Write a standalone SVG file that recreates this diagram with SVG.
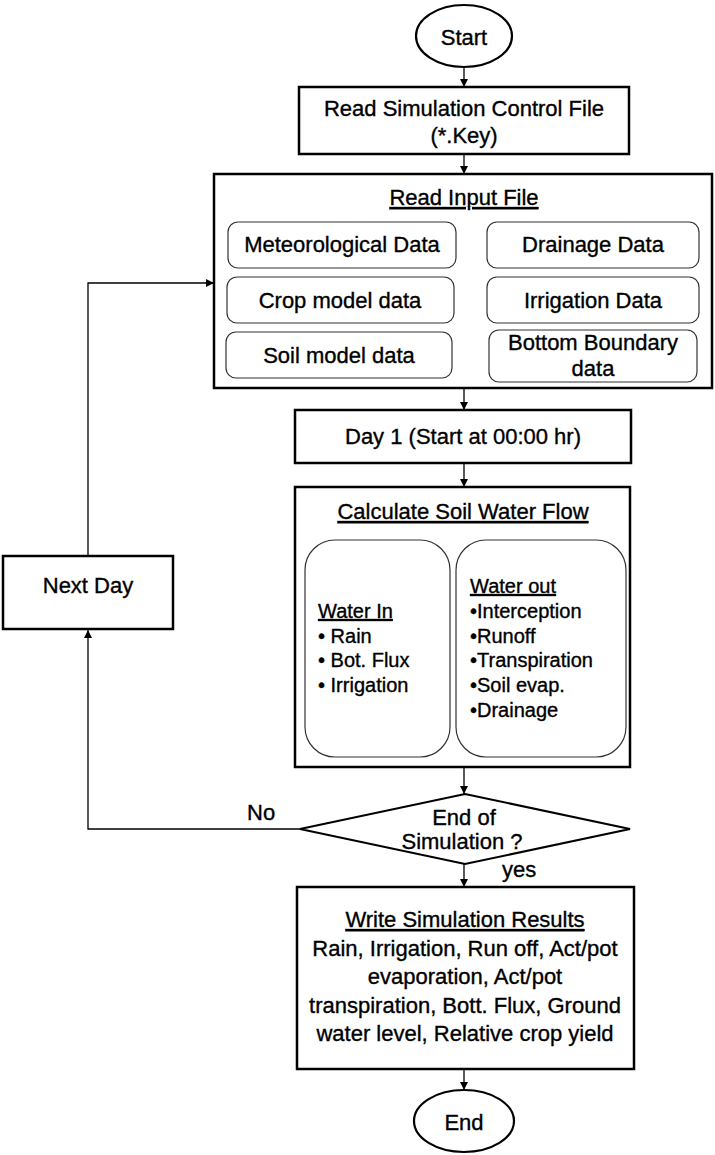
<svg xmlns="http://www.w3.org/2000/svg" width="715" height="1155" viewBox="0 0 715 1155">
<style>
text{font-family:"Liberation Sans",Arial,sans-serif;font-size:22px;fill:#000;stroke:#000;stroke-width:0.35}
.c{text-anchor:middle}
.s{font-size:20px}
.u{text-decoration:underline}
.box{fill:#fff;stroke:#000;stroke-width:2.5}
.rb{fill:#fff;stroke:#333;stroke-width:1.2}
.ln{fill:none;stroke:#000;stroke-width:1.3}
</style>
<defs>
<marker id="ar" viewBox="0 0 10 10" refX="10" refY="5" markerWidth="8" markerHeight="8" markerUnits="userSpaceOnUse" orient="auto">
<path d="M0,0 L10,5 L0,10 z" fill="#000"/>
</marker>
</defs>
<rect width="715" height="1155" fill="#fff"/>
<g id="connectors">
<line class="ln" x1="464" y1="67" x2="464" y2="87" marker-end="url(#ar)"/>
<line class="ln" x1="464" y1="154" x2="464" y2="174" marker-end="url(#ar)"/>
<line class="ln" x1="464" y1="388" x2="464" y2="410" marker-end="url(#ar)"/>
<line class="ln" x1="464" y1="463" x2="464" y2="487" marker-end="url(#ar)"/>
<line class="ln" x1="464" y1="767" x2="464" y2="794" marker-end="url(#ar)"/>
<line class="ln" x1="464" y1="864" x2="464" y2="887" marker-end="url(#ar)"/>
<line class="ln" x1="464" y1="1069" x2="464" y2="1090" marker-end="url(#ar)"/>
<polyline class="ln" points="300,829 88,829 88,630" marker-end="url(#ar)"/>
<polyline class="ln" points="88,556 88,283 214,283" marker-end="url(#ar)"/>
</g>
<g id="start">
<ellipse cx="464" cy="36" rx="48" ry="31" fill="#fff" stroke="#000" stroke-width="2.2"/>
<text class="c" x="464" y="45">Start</text>
</g>
<g id="readControl">
<rect class="box" x="299" y="87" width="330" height="67"/>
<text class="c" x="464" y="116">Read Simulation Control File</text>
<text class="c" x="464" y="143">(*.Key)</text>
</g>
<g id="readInput">
<rect class="box" x="214" y="174" width="498" height="214"/>
<text class="c u" x="464" y="205">Read Input File</text>
<g id="met"><rect class="rb" x="228" y="222" width="228" height="46" rx="10"/><text class="c" x="342" y="252">Meteorological Data</text></g>
<g id="crop"><rect class="rb" x="227" y="277" width="227" height="46" rx="10"/><text class="c" x="340" y="308">Crop model data</text></g>
<g id="soil"><rect class="rb" x="226" y="332" width="226" height="46" rx="10"/><text class="c" x="339" y="363">Soil model data</text></g>
<g id="drain"><rect class="rb" x="487" y="222" width="212" height="46" rx="10"/><text class="c" x="593" y="252">Drainage Data</text></g>
<g id="irr"><rect class="rb" x="487" y="277" width="212" height="46" rx="10"/><text class="c" x="593" y="308">Irrigation Data</text></g>
<g id="bottom"><rect class="rb" x="489" y="330" width="208" height="52" rx="10"/><text class="c" x="593" y="350">Bottom Boundary</text><text class="c" x="593" y="376">data</text></g>
</g>
<g id="day1">
<rect class="box" x="295" y="410" width="336" height="53"/>
<text class="c" x="463" y="444">Day 1 (Start at 00:00 hr)</text>
</g>
<g id="calc">
<rect class="box" x="295" y="487" width="335" height="280"/>
<text class="c u" x="463" y="519">Calculate Soil Water Flow</text>
<g id="waterIn">
<rect class="rb" x="305" y="540" width="145" height="217" rx="30"/>
<text class="s u" x="318" y="618">Water In</text>
<text class="s" x="318" y="643">• Rain</text>
<text class="s" x="318" y="667">• Bot. Flux</text>
<text class="s" x="318" y="692">• Irrigation</text>
</g>
<g id="waterOut">
<rect class="rb" x="456" y="540" width="170" height="217" rx="30"/>
<text class="s u" x="470" y="593">Water out</text>
<text class="s" x="470" y="618">•Interception</text>
<text class="s" x="470" y="643">•Runoff</text>
<text class="s" x="470" y="667">•Transpiration</text>
<text class="s" x="470" y="692">•Soil evap.</text>
<text class="s" x="470" y="717">•Drainage</text>
</g>
</g>
<g id="nextDay">
<rect class="box" x="3" y="556" width="170" height="73"/>
<text class="c" x="88" y="593">Next Day</text>
</g>
<g id="decision">
<polygon points="465,794 630,829 465,864 300,829" fill="#fff" stroke="#000" stroke-width="2"/>
<text class="c" x="464" y="825">End of</text>
<text class="c" x="462" y="849">Simulation ?</text>
<text x="247" y="820">No</text>
<text x="502" y="877">yes</text>
</g>
<g id="write">
<rect class="box" x="297" y="887" width="337" height="182"/>
<text class="c u" x="465" y="927">Write Simulation Results</text>
<text class="c" x="465" y="956">Rain, Irrigation, Run off, Act/pot</text>
<text class="c" x="465" y="984">evaporation, Act/pot</text>
<text class="c" x="465" y="1013">transpiration, Bott. Flux, Ground</text>
<text class="c" x="465" y="1041">water level, Relative crop yield</text>
</g>
<g id="end">
<ellipse cx="464" cy="1121" rx="50" ry="31" fill="#fff" stroke="#000" stroke-width="2.2"/>
<text class="c" x="464" y="1130">End</text>
</g>
</svg>
